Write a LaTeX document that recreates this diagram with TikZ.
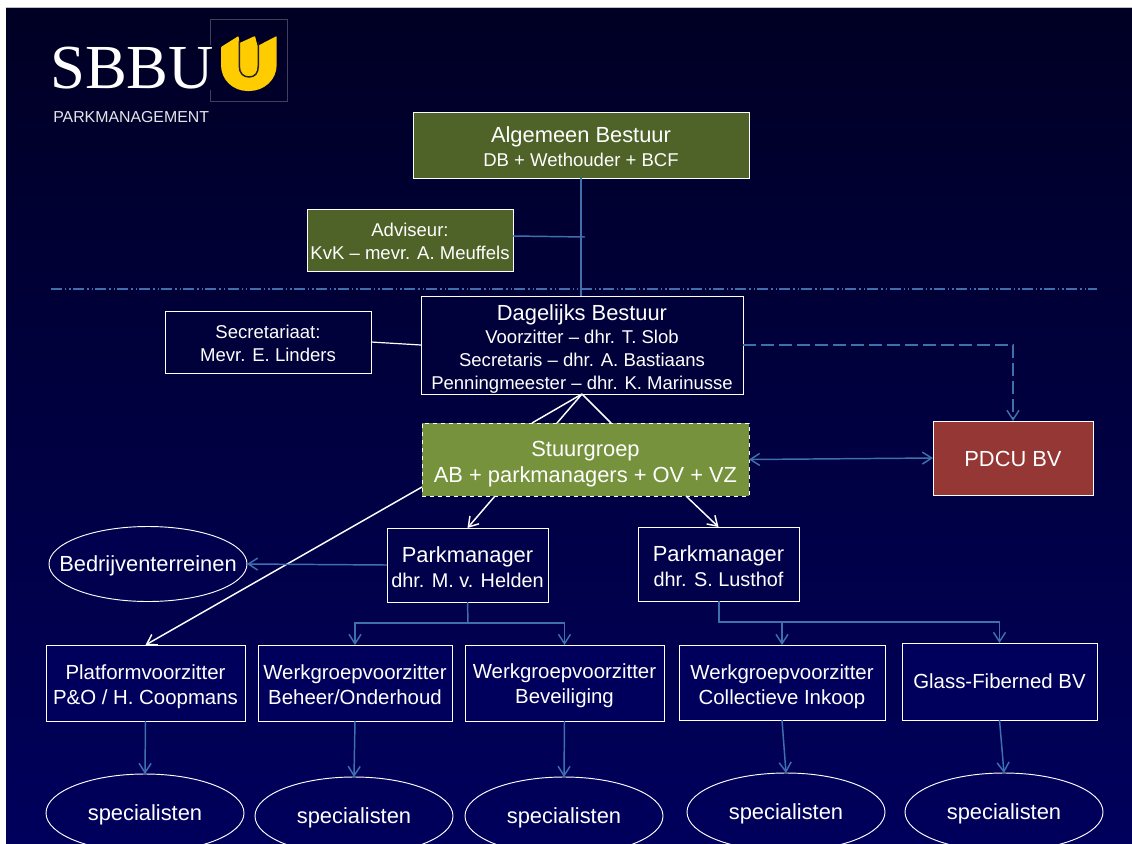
\documentclass[tikz,border=0pt]{standalone}
\usepackage{fontspec}
\setmainfont{Liberation Sans}
\newfontfamily\logoserif{Liberation Serif}
\usetikzlibrary{arrows.meta,shapes.geometric}
\definecolor{bgtop}{HTML}{000024}
\definecolor{bgbot}{HTML}{00005C}
\definecolor{linkblue}{HTML}{3F70AC}
\definecolor{oliveD}{HTML}{4F6228}
\definecolor{oliveL}{HTML}{76923C}
\definecolor{brick}{HTML}{953735}
\definecolor{gold}{HTML}{FFCC00}
\newcommand{\bigf}{\fontsize{16.4}{18}\selectfont}
\newcommand{\subf}{\fontsize{13.9}{17}\selectfont}
\newcommand{\midf}{\fontsize{14.9}{17}\selectfont}
\newcommand{\lowf}{\fontsize{15.3}{18}\selectfont}
\newcommand{\topstrut}[1]{\rule{0pt}{#1pt}}
\tikzset{
  x=0.75pt,y=-0.75pt,
  boxn/.style={draw=white,line width=0.75pt,text=white,inner sep=0pt,outer sep=0pt,align=center,fill=#1},
  boxn/.default=none,
  lsp/.style={font=\fontsize{10}{#1}\selectfont},
  ovaln/.style={ellipse,draw=white,line width=0.7pt,text=white,inner xsep=-30pt,inner ysep=0pt,outer sep=0pt,font=\bigf,text height=12pt,text depth=0.6pt},
  whiteln/.style={draw=white,line width=1.1pt},
  blueln/.style={draw=linkblue,line width=1.1pt},
  vtip/.style={-{Straight Barb[length=7pt,width=9pt,line width=1.1pt]}},
  bothtip/.style={{Straight Barb[length=7pt,width=9pt,line width=1.1pt]}-{Straight Barb[length=7pt,width=9pt,line width=1.1pt]}},
}
\begin{document}
\begin{tikzpicture}
\useasboundingbox (0,0) rectangle (1132,843);
\clip (0,0) rectangle (1132,843);
\fill[white] (0,0) rectangle (1132,843);
\shade[top color=bgtop,bottom color=bgbot] (6,7) rectangle (1132,843);
\draw[gray!50,line width=0.5pt] (6,7) -- (1132,7);
% logo
\draw[draw=white!25!bgtop,line width=0.5pt] (210,45) -- (210,19) -- (287,19) -- (287,101) -- (210,101) -- (210,90);
\fill[gold,rounded corners=0.6pt] (221,47) -- (238.5,36) -- (239.5,43) -- (255,36) -- (257.5,46) -- (276.7,36) -- (276.7,64)
  .. controls (276.7,80) and (264,91) .. (248.5,91) .. controls (233,91) and (221,80) .. (221,64) -- cycle;
\draw[bgtop!85!gold,line width=1.1pt] (239.3,41) -- (239.3,66) .. controls (239.3,73) and (243,77) .. (249,77) .. controls (255,77) and (258.3,73) .. (258.3,66) -- (258.3,42);
\node[text=white,inner sep=0pt,anchor=base west,font=\logoserif\fontsize{47}{47}\selectfont] (logotext) at (50,88) {SBBU};
\node[text=white!90!bgtop,inner sep=0pt,anchor=base west,font=\fontsize{11.9}{13}\selectfont] (logosub) at (53,122) {PARKMANAGEMENT};
% separator
\draw[linkblue,line width=1.1pt,dash pattern=on 8.25pt off 2.25pt on 1.1pt off 2.25pt on 1.1pt off 1.6pt] (51,289) -- (1097,289);
% boxes
\node[boxn=oliveD,lsp=18pt,minimum width=336*0.75pt,minimum height=66*0.75pt] (ab) at (581,145) {\topstrut{14.2}\bigf Algemeen Bestuur\\\subf DB + Wethouder + BCF};
\node[boxn=oliveD,lsp=17.25pt,minimum width=206*0.75pt,minimum height=62*0.75pt] (adv) at (410,240) {\topstrut{12.4}\subf Adviseur:\\\subf KvK – mevr. A. Meuffels};
\node[boxn=bgtop!60!bgbot,lsp=17.25pt,minimum width=322*0.75pt,minimum height=98*0.75pt] (db) at (582,345) {\topstrut{17.2}\bigf Dagelijks Bestuur\\\subf Voorzitter – dhr. T. Slob\\\subf Secretaris – dhr. A. Bastiaans\\\subf Penningmeester – dhr. K. Marinusse};
\node[boxn=bgtop!60!bgbot,lsp=17.25pt,minimum width=206*0.75pt,minimum height=62*0.75pt] (sec) at (268,342) {\topstrut{11.7}\subf Secretariaat:\\\subf Mevr. E. Linders};
\node[boxn=oliveL,lsp=19.5pt,dashed,minimum width=327*0.75pt,minimum height=73*0.75pt] (st) at (585.5,459.5) {\topstrut{18}\bigf Stuurgroep\\\bigf AB + parkmanagers + OV + VZ};
\node[boxn=brick,minimum width=160*0.75pt,minimum height=74*0.75pt,font=\bigf] (pd) at (1013,458) {\topstrut{13.5}PDCU BV};
\node[boxn=bgtop!30!bgbot,lsp=18.75pt,minimum width=161*0.75pt,minimum height=74*0.75pt] (pm1) at (467.5,565) {\topstrut{15}\bigf Parkmanager\\\midf dhr. M. v. Helden};
\node[boxn=bgtop!30!bgbot,lsp=18.75pt,minimum width=161*0.75pt,minimum height=74*0.75pt] (pm2) at (718.5,564) {\topstrut{14.5}\bigf Parkmanager\\\midf dhr. S. Lusthof};
\node[boxn=bgbot,lsp=18.75pt,minimum width=199*0.75pt,minimum height=76*0.75pt] (po) at (145.5,683) {\topstrut{17.2}\lowf Platformvoorzitter\\\lowf P\&O / H. Coopmans};
\node[boxn=bgbot,lsp=18.75pt,minimum width=194*0.75pt,minimum height=76*0.75pt] (wb) at (355,683) {\topstrut{13.5}\lowf Werkgroepvoorzitter\\\lowf Beheer/Onderhoud};
\node[boxn=bgbot,lsp=18.75pt,minimum width=199*0.75pt,minimum height=76*0.75pt] (wv) at (564.5,683) {\topstrut{15}\lowf Werkgroepvoorzitter\\\lowf Beveiliging};
\node[boxn=bgbot,lsp=18.75pt,minimum width=206*0.75pt,minimum height=75*0.75pt] (wc) at (782,682.5) {\topstrut{17.2}\lowf Werkgroepvoorzitter\\\lowf Collectieve Inkoop};
\node[boxn=bgbot,minimum width=195*0.75pt,minimum height=77*0.75pt,font=\lowf] (gf) at (999.5,681.5) {Glass-Fiberned BV};
% ellipses
\node[ovaln,minimum width=198*0.75pt,minimum height=75*0.75pt,fill=bgtop!25!bgbot] (bt) at (148,564) {Bedrijventerreinen};
\node[ovaln,minimum width=198*0.75pt,minimum height=78*0.75pt] (s1) at (145,813) {specialisten};
\node[ovaln,minimum width=198*0.75pt,minimum height=78*0.75pt] (s2) at (354,816) {specialisten};
\node[ovaln,minimum width=198*0.75pt,minimum height=78*0.75pt] (s3) at (564,816) {specialisten};
\node[ovaln,minimum width=198*0.75pt,minimum height=78*0.75pt] (s4) at (786,812) {specialisten};
\node[ovaln,minimum width=198*0.75pt,minimum height=78*0.75pt] (s5) at (1004,812) {specialisten};
% free ends
\coordinate (advend) at (585,237);
\coordinate (advstart) at (513,236);
\coordinate (dbe) at (743,345);
\coordinate (pdcorner) at (1013,345);
\coordinate (st1) at (532,423);
\coordinate (st2) at (557,423);
\coordinate (st3) at (611,423);
\coordinate (stp1) at (495,496);
\coordinate (stp2) at (686,496);
\coordinate (stpo) at (422,487);
\coordinate (pm1t) at (468,623);
\coordinate (pm2t) at (718,622);
% connectors
\draw[blueln] (ab.south) -- (ab.south |- db.north);
\draw[blueln] (advstart) -- (advend);
\draw[whiteln,line width=0.9pt] (sec.east) -- (db.west);
\draw[blueln,dash pattern=on 9.5pt off 4pt,vtip] (dbe) -- (pdcorner) -- (pd.north);
\draw[whiteln] (db.south) -- (st1);
\draw[whiteln] (db.south) -- (st2);
\draw[whiteln] (db.south) -- (st3);
\draw[blueln,bothtip] (st.east) -- (pd.west);
\draw[whiteln,vtip] (stp1) -- (pm1.north);
\draw[whiteln,vtip] (stp2) -- (pm2.north);
\draw[whiteln,vtip] (stpo) -- (po.north);
\draw[blueln,vtip] (pm1.west) -- (bt.east);
\draw[blueln] (pm1.south) -- (pm1t);
\draw[blueln,vtip] (pm1t) -| (wb.north);
\draw[blueln,vtip] (pm1t) -| (wv.north);
\draw[blueln,line width=1.5pt] (pm2.south) |- (pm2t) -- (wc.north |- pm2t);
\draw[blueln,vtip] (pm2t) -| (wc.north);
\draw[blueln,vtip] (pm2t) -| (gf.north);
\draw[blueln,vtip] (po.south) -- (s1.north);
\draw[blueln,vtip] (wb.south) -- (s2.north);
\draw[blueln,vtip] (wv.south) -- (s3.north);
\draw[blueln,vtip] (wc.south) -- (s4.north);
\draw[blueln,vtip] (gf.south) -- (s5.north);
\end{tikzpicture}
\end{document}
